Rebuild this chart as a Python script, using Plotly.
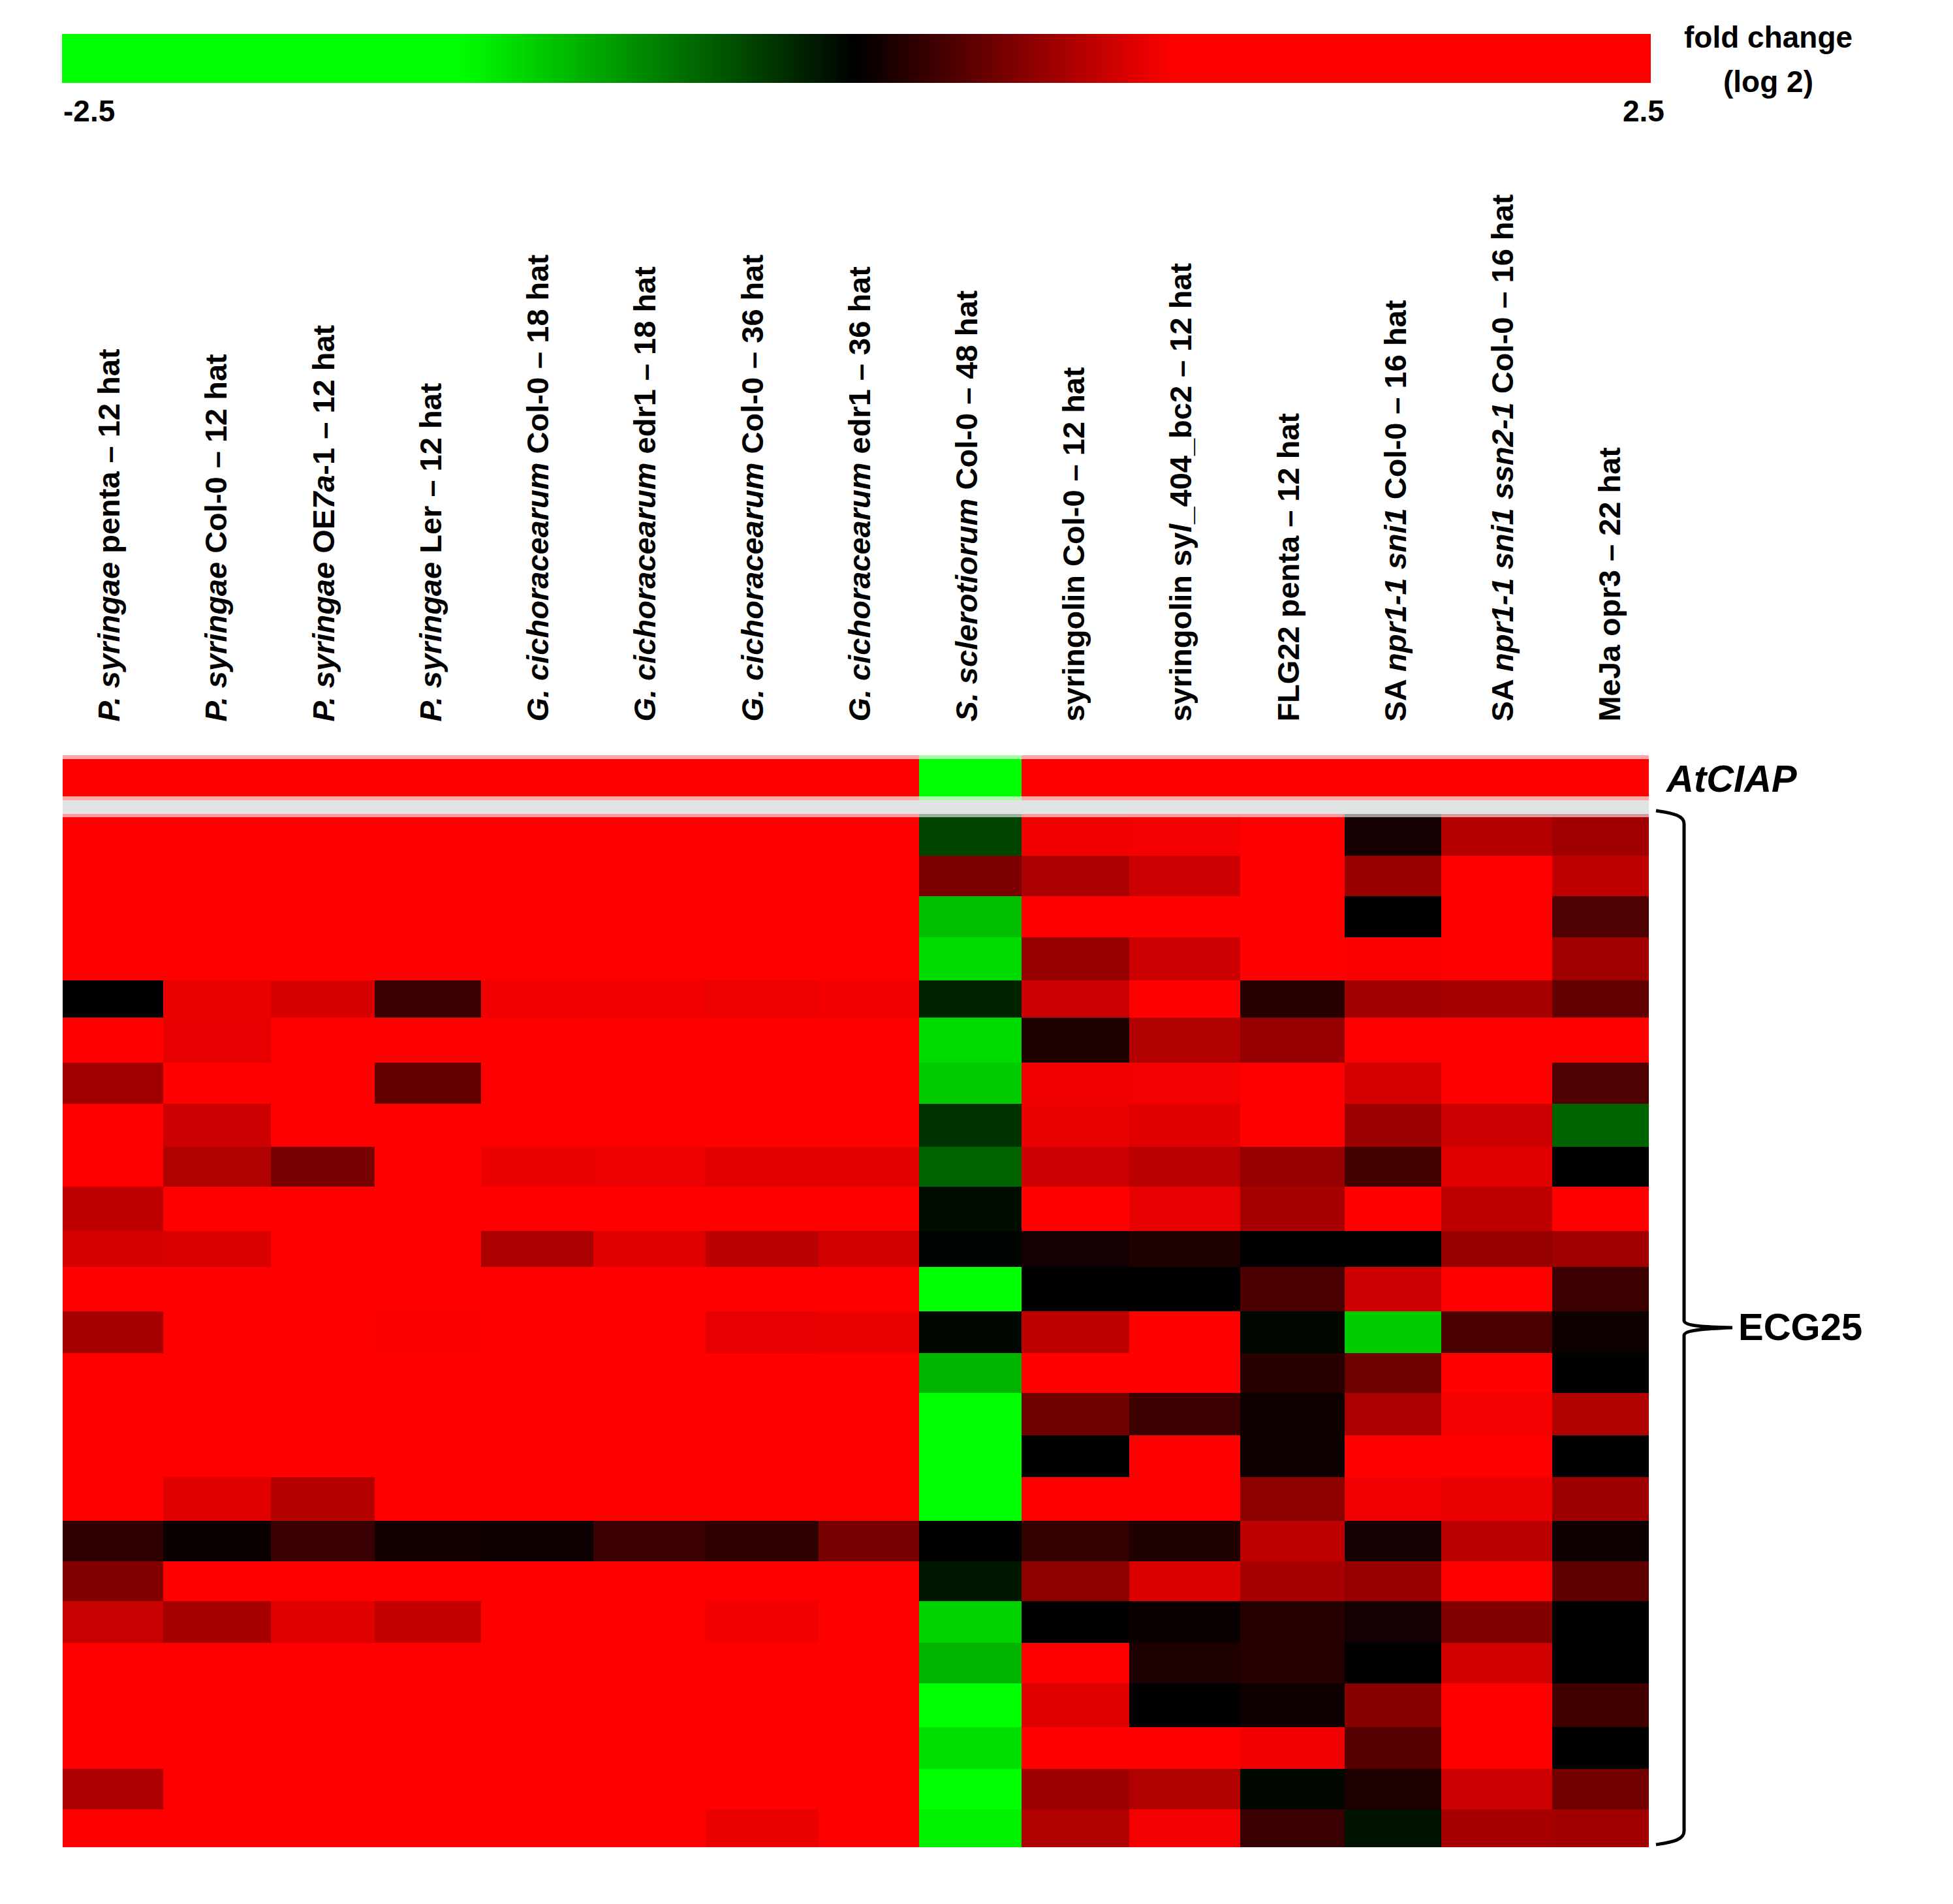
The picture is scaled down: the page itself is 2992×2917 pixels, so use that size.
import numpy as np
import plotly.graph_objects as go

W, H = 2992, 2917
PAGE_MARGIN = 8  # default body margin of the written page

# conditions along the top of the heat map
conditions = [
    '<i>P. syringae</i> penta – 12 hat',
    '<i>P. syringae</i> Col-0 – 12 hat',
    '<i>P. syringae</i> OE<i>7a</i>-1 – 12 hat',
    '<i>P. syringae</i> Ler – 12 hat',
    '<i>G. cichoracearum</i> Col-0 – 18 hat',
    '<i>G. cichoracearum</i> edr1 – 18 hat',
    '<i>G. cichoracearum</i> Col-0 – 36 hat',
    '<i>G. cichoracearum</i> edr1 – 36 hat',
    '<i>S. sclerotiorum</i> Col-0 – 48 hat',
    'syringolin Col-0 – 12 hat',
    'syringolin sy<i>l</i>_404_bc2 – 12 hat',
    'FLG22 penta – 12 hat',
    'SA <i>npr1-1 sni1</i> Col-0 – 16 hat',
    'SA <i>npr1-1 sni1 ssn2-1</i> Col-0 – 16 hat',
    'MeJa opr3 – 22 hat',
]

# cells in the figure are not quite even
cell_widths = [154, 165, 159, 163, 172, 172, 173, 154, 157, 165, 170, 160, 148, 170, 148]
cell_heights = [64, 62, 63, 66, 57, 69, 63, 66, 61, 68, 55, 68, 64, 61, 65, 64, 67, 62, 61, 64, 62, 67, 64, 62, 58]

# log2 fold change. colours clip early, so 2.5 / -2.5 = fully saturated
atciap = [2.5, 2.5, 2.5, 2.5, 2.5, 2.5, 2.5, 2.5, -2.5, 2.5, 2.5, 2.5, 2.5, 2.5, 2.5]

ecg01 = [2.5, 2.5, 2.5, 2.5, 2.5, 2.5, 2.5, 2.5, -.34, .95, .96, 2.5, .08, .7, .63]
ecg02 = [2.5, 2.5, 2.5, 2.5, 2.5, 2.5, 2.5, 2.5, .49, .67, .8, 2.5, .6, 2.5, .75]
ecg03 = [2.5, 2.5, 2.5, 2.5, 2.5, 2.5, 2.5, 2.5, -.93, 2.5, 2.5, 2.5, 0, 2.5, .31]
ecg04 = [2.5, 2.5, 2.5, 2.5, 2.5, 2.5, 2.5, 2.5, -1.08, .59, .8, 2.5, .98, 2.5, .63]
ecg05 = [0, .92, .84, .22, .94, .95, .93, .95, -.17, .8, 2.5, .16, .63, .65, .39]
ecg06 = [2.5, .9, 2.5, 2.5, 2.5, 2.5, 2.5, 2.5, -1.08, .12, .69, .59, 2.5, 2.5, 2.5]
ecg07 = [.63, 2.5, 2.5, .39, 2.5, 2.5, 2.5, 2.5, -1.0, .94, .96, 2.5, .84, 2.5, .31]
ecg08 = [2.5, .8, 2.5, 2.5, 2.5, 2.5, 2.5, 2.5, -.25, .92, .88, 2.5, .61, .8, -.49]
ecg09 = [2.5, .69, .47, 2.5, .92, .93, .89, .89, -.49, .8, .73, .59, .27, .88, 0]
ecg10 = [.75, 2.5, 2.5, 2.5, 2.5, 2.5, 2.5, 2.5, -.06, 2.5, .9, .65, 2.5, .75, 2.5]
ecg11 = [.84, .86, 2.5, 2.5, .67, .88, .73, .82, -.02, .08, .12, 0, 0, .59, .63]
ecg12 = [2.5, 2.5, 2.5, 2.5, 2.5, 2.5, 2.5, 2.5, -2.5, 0, 0, .29, .8, 2.5, .24]
ecg13 = [.65, 2.5, 2.5, .98, 2.5, 2.5, .9, .92, -.03, .75, 2.5, -.04, -1.0, .29, .06]
ecg14 = [2.5, 2.5, 2.5, 2.5, 2.5, 2.5, 2.5, 2.5, -.88, 2.5, 2.5, .16, .43, 2.5, -.01]
ecg15 = [2.5, 2.5, 2.5, 2.5, 2.5, 2.5, 2.5, 2.5, -2.5, .43, .24, .05, .67, .96, .69]
ecg16 = [2.5, 2.5, 2.5, 2.5, 2.5, 2.5, 2.5, 2.5, -2.5, 0, 2.5, .05, 2.5, 2.5, 0]
ecg17 = [2.5, .88, .71, 2.5, 2.5, 2.5, 2.5, 2.5, -2.5, 2.5, 2.5, .55, .94, .92, .61]
ecg18 = [.18, .04, .22, .07, .05, .24, .18, .47, 0, .2, .12, .75, .08, .73, .05]
ecg19 = [.51, 2.5, 2.5, 2.5, 2.5, 2.5, 2.5, 2.5, -.12, .55, .86, .65, .59, 2.5, .37]
ecg20 = [.78, .65, .88, .76, 2.5, 2.5, .94, 2.5, -1.03, 0, .04, .14, .08, .51, 0]
ecg21 = [2.5, 2.5, 2.5, 2.5, 2.5, 2.5, 2.5, 2.5, -.88, 2.5, .12, .14, 0, .82, 0]
ecg22 = [2.5, 2.5, 2.5, 2.5, 2.5, 2.5, 2.5, 2.5, -2.5, .88, 0, .06, .53, 2.5, .25]
ecg23 = [2.5, 2.5, 2.5, 2.5, 2.5, 2.5, 2.5, 2.5, -1.1, 2.5, 2.5, .94, .33, 2.5, 0]
ecg24 = [.67, 2.5, 2.5, 2.5, 2.5, 2.5, 2.5, 2.5, -2.5, .61, .69, -.04, .12, .8, .45]
ecg25 = [2.5, 2.5, 2.5, 2.5, 2.5, 2.5, .92, 2.5, -1.18, .69, .96, .22, -.09, .65, .63]

z_ecg = [ecg01, ecg02, ecg03, ecg04, ecg05, ecg06, ecg07, ecg08, ecg09, ecg10, ecg11, ecg12, ecg13,
         ecg14, ecg15, ecg16, ecg17, ecg18, ecg19, ecg20, ecg21, ecg22, ecg23, ecg24, ecg25]

x_edges = np.concatenate([[0], np.cumsum(cell_widths)])
y_edges = np.concatenate([[0], np.cumsum(cell_heights)])

# pixel position in the picture -> paper fraction
def px(x):
    return (x - PAGE_MARGIN) / W

def py(y):
    return 1 - (y - PAGE_MARGIN) / H

fig = go.Figure()
fig.add_trace(go.Heatmap(z=[atciap], x=x_edges, y=[0, 1], coloraxis='coloraxis', xaxis='x', yaxis='y'))
fig.add_trace(go.Heatmap(z=z_ecg, x=x_edges, y=y_edges, coloraxis='coloraxis', xaxis='x2', yaxis='y2'))

label_pos = np.linspace(72, 2371, 15)  # labels are evenly spaced even though cells aren't

fig.update_layout(
    width=W, height=H,
    margin=dict(l=0, r=0, t=0, b=0, autoexpand=False),
    paper_bgcolor='white', plot_bgcolor='white',
    font=dict(family='Liberation Sans', color='black'),
    coloraxis=dict(
        cmin=-2.5, cmax=2.5,
        colorscale=[[0, '#00ff00'], [0.25, '#00ff00'], [0.5, '#000000'], [0.7, '#ff0000'], [1, '#ff0000']],
        colorbar=dict(orientation='h', lenmode='pixels', len=2434, thicknessmode='pixels', thickness=75,
                      x=px(95), xanchor='left', y=py(127), yanchor='bottom', xpad=0, ypad=0,
                      outlinewidth=0, ticks='', showticklabels=False),
    ),
    xaxis=dict(domain=[px(96), px(2526)], range=[0, 2430], side='top', tickmode='array',
               tickvals=label_pos, ticktext=conditions, tickangle=-90, ticks='outside', ticklen=41,
               tickcolor='white', tickfont=dict(size=47, family='Liberation Sans', weight=700),
               showgrid=False, zeroline=False, anchor='y'),
    yaxis=dict(domain=[py(1226), py(1157)], range=[0, 1], visible=False, anchor='x'),
    xaxis2=dict(domain=[px(96), px(2526)], range=[0, 2430], visible=False, anchor='y2'),
    yaxis2=dict(domain=[py(2830), py(1247)], range=[1583, 0], visible=False, anchor='x2'),
)

# pale edges of the strips and the grey gap between the two panels
for y0, y1, op in [(1157, 1163, .65), (1220, 1226, .65), (1247, 1252, .6)]:
    fig.add_shape(type='rect', xref='paper', yref='paper', x0=px(96), x1=px(2526), y0=py(y0), y1=py(y1),
                  fillcolor='white', opacity=op, line_width=0)
fig.add_shape(type='rect', xref='paper', yref='paper', x0=px(96), x1=px(2526), y0=py(1226), y1=py(1247),
              fillcolor='#e1e4e4', line_width=0)

# curly brace
pts = [(2537, 1242), (2565, 1246), (2580, 1250), (2580, 1262), (2580, 2023), (2580, 2030), (2600, 2033), (2654, 2034),
       (2600, 2036), (2580, 2039), (2580, 2046), (2580, 2805), (2580, 2818), (2565, 2822), (2537, 2826)]
p = [f'{px(a):.5f},{py(b):.5f}' for a, b in pts]
brace = f'M {p[0]} C {p[1]} {p[2]} {p[3]} L {p[4]} C {p[5]} {p[6]} {p[7]} C {p[8]} {p[9]} {p[10]} L {p[11]} C {p[12]} {p[13]} {p[14]}'
fig.add_shape(type='path', xref='paper', yref='paper', path=brace, line=dict(color='black', width=5))

notes = [
    ('<b>-2.5</b>', 95, 170, 'left', 46),
    ('<b>2.5</b>', 2552, 170, 'right', 46),
    ('<b>fold change</b>', 2709, 57, 'center', 46),
    ('<b>(log 2)</b>', 2709, 125, 'center', 46),
    ('<b><i>AtCIAP</i></b>', 2549, 1193, 'left', 58),
    ('<b>ECG25</b>', 2661, 2032, 'left', 58),
]
for text, x, y, align, size in notes:
    fig.add_annotation(text=text, xref='paper', yref='paper', x=px(x), y=py(y), xanchor=align, yanchor='middle',
                       showarrow=False, font=dict(family='Liberation Sans', size=size, color='black'))

fig.write_html("out.html")
